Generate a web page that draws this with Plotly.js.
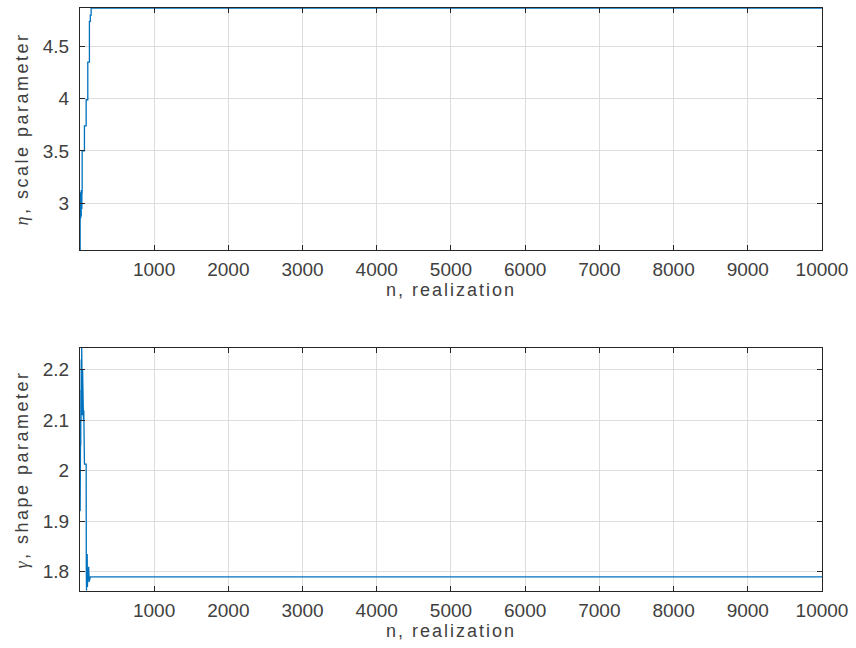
<!DOCTYPE html>
<html>
<head>
<meta charset="utf-8">
<script src="https://cdn.plot.ly/plotly-3.0.1.min.js"></script>
<style>
  html, body { margin: 0; padding: 0; background: #fff; }
  #chart { width: 856px; height: 648px; }
  text.xtitle, text.x2title { letter-spacing: 2px; }
  text.ytitle, text.y2title { letter-spacing: 2.5px; }
</style>
</head>
<body>
<div id="chart"></div>
<script>
// Running estimates of the Weibull parameters versus number of realizations.

// Scale parameter eta: realization index and estimate
const etaN = [1, 3, 6, 10, 14, 18, 22, 26, 30, 45, 61, 75, 84, 95, 106, 118, 128, 140, 151, 10000];
const etaV = [2.553, 3.10, 2.86, 3.05, 2.88, 3.12, 2.95, 3.10, 3.50, 3.50, 3.74, 3.74, 3.99, 3.99, 4.35, 4.35, 4.74, 4.80, 4.868, 4.868];

// Shape parameter gamma: realization index and estimate
const gamN = [1, 3, 5, 7, 9, 11, 13, 15, 18, 21, 24, 27, 30, 33, 36, 40, 44, 48, 52, 56, 61, 70, 84, 86, 89, 92, 95, 98, 101, 104, 108, 112, 118, 124, 130, 140, 151, 10000];
const gamV = [2.09, 1.92, 2.08, 1.95, 2.10, 2.05, 2.16, 2.10, 2.22, 2.12, 2.243, 2.14, 2.23, 2.11, 2.20, 2.13, 2.18, 2.10, 2.12, 2.05, 2.013, 2.013, 2.013, 1.80, 1.763, 1.83, 1.78, 1.835, 1.77, 1.82, 1.80, 1.785, 1.81, 1.78, 1.79, 1.79, 1.79, 1.79];

// Axis ticks
const xTicks = [1000, 2000, 3000, 4000, 5000, 6000, 7000, 8000, 9000, 10000];
const etaTicks = [3, 3.5, 4, 4.5];
const gamTicks = [1.8, 1.9, 2, 2.1, 2.2];

const lineColor = '#0072BD';
const axisColor = '#262626';
const textColor = '#404040';
const gridColor = '#dedede';
const font = 'Liberation Sans, Arial, sans-serif';

function xAxis(anchor) {
  return {
    anchor: anchor,
    range: [1, 10000],
    tickvals: xTicks,
    ticktext: xTicks.map(String),
    showgrid: true, gridcolor: gridColor, gridwidth: 1,
    zeroline: false,
    showline: true, linecolor: axisColor, linewidth: 1, mirror: 'ticks',
    ticks: 'inside', ticklen: 5, tickcolor: axisColor, tickwidth: 1,
    tickfont: {family: font, size: 19, color: textColor},
    ticklabelstandoff: 2,
    title: {text: 'n, realization', font: {family: font, size: 18, color: textColor}, standoff: 4}
  };
}

function yAxis(anchor, domain, range, ticks, title) {
  return {
    anchor: anchor,
    domain: domain,
    range: range,
    tickvals: ticks,
    ticktext: ticks.map(String),
    showgrid: true, gridcolor: gridColor, gridwidth: 1,
    zeroline: false,
    showline: true, linecolor: axisColor, linewidth: 1, mirror: 'ticks',
    ticks: 'inside', ticklen: 5, tickcolor: axisColor, tickwidth: 1,
    tickfont: {family: font, size: 19, color: textColor},
    ticklabelstandoff: 6,
    title: {text: title, font: {family: font, size: 18, color: textColor}, standoff: 9}
  };
}

const greek = s => '<span style="font-family:\'Liberation Serif\',serif;font-style:italic">' + s + '</span>';

const data = [
  {x: etaN, y: etaV, xaxis: 'x', yaxis: 'y', type: 'scatter', mode: 'lines',
   line: {color: lineColor, width: 1.3, shape: 'hv'}, hoverinfo: 'skip'},
  {x: gamN, y: gamV, xaxis: 'x2', yaxis: 'y2', type: 'scatter', mode: 'lines',
   line: {color: lineColor, width: 1.3}, hoverinfo: 'skip'}
];

const layout = {
  width: 856, height: 648,
  margin: {l: 80, r: 34, t: 8, b: 57},
  paper_bgcolor: '#ffffff', plot_bgcolor: '#ffffff',
  showlegend: false,
  xaxis: xAxis('y'),
  yaxis: yAxis('x', [0.585, 1], [2.553, 4.868], etaTicks, greek('η') + ', scale parameter'),
  xaxis2: xAxis('y2'),
  yaxis2: yAxis('x2', [0, 0.4168], [1.762, 2.243], gamTicks, greek('γ') + ', shape parameter')
};

Plotly.newPlot('chart', data, layout, {staticPlot: true, displayModeBar: false});
</script>
</body>
</html>
